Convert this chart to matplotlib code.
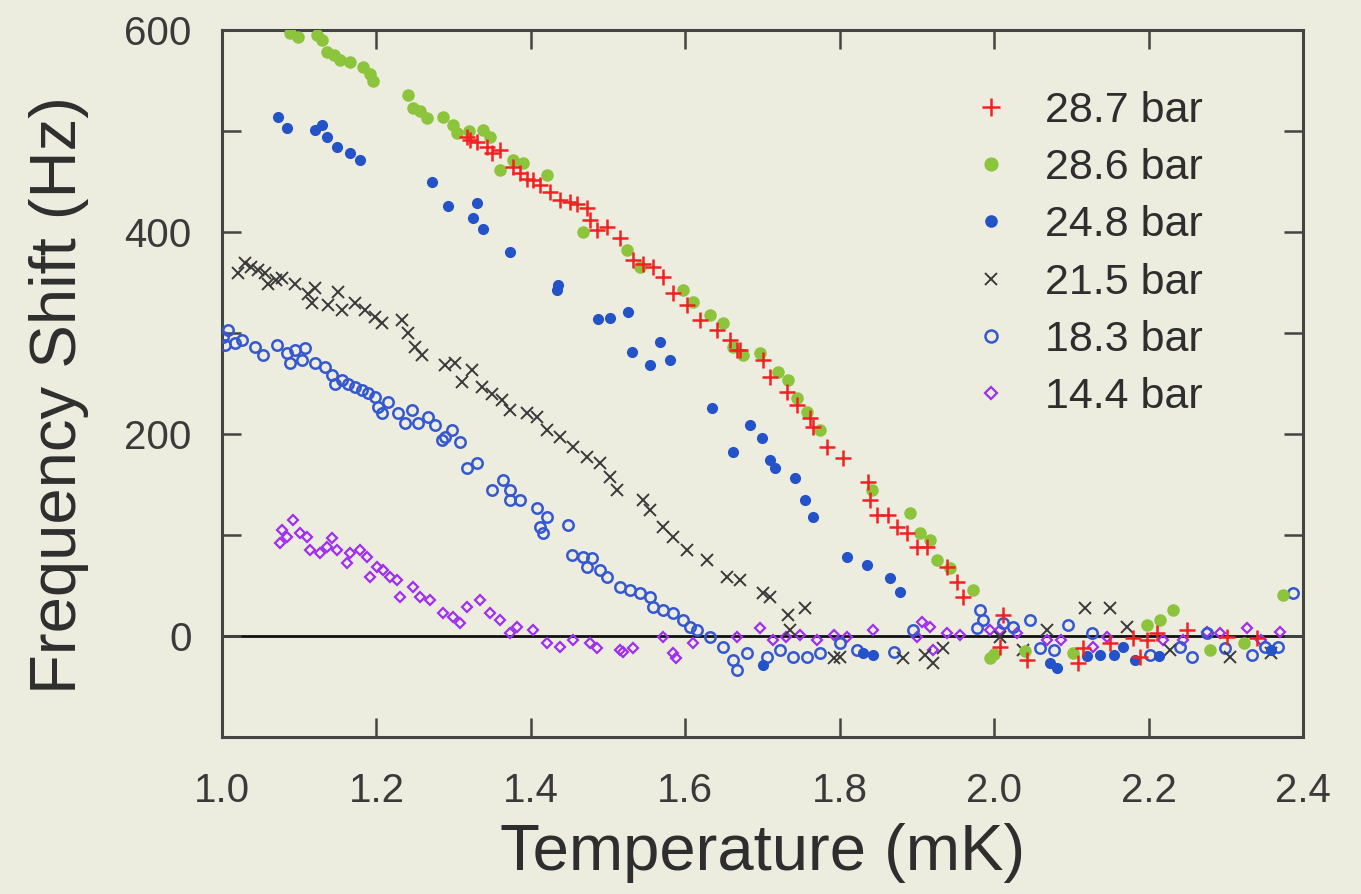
import matplotlib
matplotlib.use("Agg")
import matplotlib.pyplot as plt
from matplotlib.ticker import MultipleLocator, FuncFormatter

# ---------------- data ----------------
series_labels = ["28.7 bar", "28.6 bar", "24.8 bar", "21.5 bar", "18.3 bar", "14.4 bar"]

x_287 = [1.317,1.321,1.330,1.343,1.350,1.360,1.377,1.386,1.395,1.403,
         1.412,1.425,1.438,1.451,1.460,1.473,1.477,1.486,1.499,1.516,
         1.532,1.545,1.558,1.571,1.584,1.602,1.619,1.641,1.658,1.667,
         1.671,1.701,1.710,1.732,1.745,1.762,1.766,1.784,1.804,1.837,
         1.839,1.848,1.863,1.874,1.887,1.900,1.913,1.939,1.952,1.960,
         2.008,2.012,2.043,2.108,2.115,2.150,2.180,2.189,2.198,2.211,
         2.250,2.302,2.341]
y_287 = [494,491,489,484,478,481,464,458,452,451,
         447,440,432,430,428,424,412,402,405,394,
         372,368,365,355,340,328,313,303,293,283,
         283,273,256,242,229,216,207,187,176,152,
         135,120,120,108,102,88,88,68,53,39,
         -11,21,-24,-27,-12,-7,-2,-21,-4,3,
         6,-1,-2]

x_286 = [1.088,1.098,1.123,1.130,1.136,1.145,1.153,1.166,1.183,1.192,
         1.196,1.241,1.247,1.256,1.266,1.286,1.299,1.304,1.320,1.338,
         1.347,1.360,1.377,1.390,1.421,1.468,1.525,1.541,1.597,1.610,
         1.632,1.649,1.662,1.675,1.697,1.720,1.733,1.745,1.758,1.775,
         1.842,1.891,1.904,1.917,1.926,1.943,1.973,1.995,2.000,2.040,
         2.102,2.198,2.215,2.232,2.280,2.323,2.374]
y_286 = [597,593,595,590,578,575,570,568,563,556,
         550,536,523,520,513,514,506,498,500,501,
         494,461,471,468,456,400,382,365,343,331,
         318,310,286,278,280,261,253,236,222,204,
         145,122,102,95,75,67,46,-22,-18,-15,
         -17,11,16,26,-14,-7,41]

x_248 = [1.073,1.084,1.120,1.130,1.136,1.149,1.166,1.179,1.272,1.293,
         1.330,1.325,1.338,1.373,1.435,1.434,1.487,1.503,1.526,1.531,
         1.567,1.554,1.580,1.635,1.684,1.699,1.662,1.710,1.716,1.742,
         1.755,1.766,1.810,1.835,1.865,1.878,1.701,1.830,1.843,2.082,
         2.072,2.120,2.137,2.155,2.167,2.183,2.213,2.280,2.358]
y_248 = [514,503,501,506,494,484,478,471,450,426,
         429,414,403,380,348,343,314,315,321,281,
         291,268,273,226,209,196,182,174,166,156,
         135,118,78,70,57,44,-29,-17,-19,-32,
         -27,-20,-19,-19,-11,-24,-20,-14,-14]

x_215 = [1.021,1.030,1.038,1.047,1.056,1.060,1.070,1.078,1.095,1.111,
         1.120,1.117,1.137,1.150,1.155,1.172,1.185,1.198,1.207,1.233,
         1.241,1.250,1.259,1.289,1.302,1.311,1.324,1.337,1.350,1.363,
         1.373,1.395,1.408,1.421,1.438,1.455,1.473,1.490,1.503,1.512,
         1.545,1.554,1.571,1.584,1.602,1.628,1.654,1.671,1.701,1.710,
         1.733,1.755,1.736,1.792,1.801,1.882,1.911,1.921,1.934,2.008,
         2.038,2.069,2.118,2.150,2.172,2.228,2.306,2.358]
y_215 = [359,369,365,362,359,349,352,354,349,339,
         345,330,328,341,323,330,323,316,310,313,
         300,286,278,268,270,251,263,247,240,234,
         224,221,217,204,197,187,177,171,157,145,
         135,125,108,98,85,75,58,55,43,39,
         21,28,6,-22,-21,-22,-19,-27,-12,-1,
         -14,6,28,28,9,-14,-21,-17]

x_183 = [1.001,1.004,1.008,1.017,1.026,1.043,1.053,1.071,1.084,1.088,
         1.095,1.104,1.108,1.120,1.133,1.142,1.146,1.155,1.163,1.172,
         1.181,1.189,1.198,1.202,1.207,1.215,1.228,1.237,1.246,1.254,
         1.267,1.276,1.285,1.289,1.298,1.308,1.317,1.330,1.350,1.364,
         1.373,1.373,1.386,1.408,1.412,1.416,1.421,1.448,1.453,1.468,
         1.473,1.479,1.490,1.499,1.516,1.528,1.541,1.554,1.558,1.571,
         1.584,1.597,1.606,1.615,1.632,1.649,1.662,1.667,1.680,1.706,
         1.723,1.740,1.758,1.775,1.801,1.823,1.870,1.895,1.978,1.982,
         1.986,2.012,2.025,2.047,2.060,2.077,2.096,2.127,2.202,2.241,
         2.256,2.276,2.299,2.334,2.351,2.368,2.387]
y_183 = [296,288,303,290,293,286,278,288,280,270,
         283,273,285,270,266,258,250,253,250,247,
         244,241,237,227,221,232,221,211,224,211,
         217,209,194,197,204,192,166,171,145,154,
         145,135,135,127,108,102,118,110,80,78,
         68,77,65,58,49,46,43,39,29,26,
         23,16,9,6,-1,-11,-24,-34,-17,-21,
         -14,-21,-21,-17,-7,-14,-16,6,8,26,
         16,13,9,16,-12,-14,11,3,-19,-11,
         -21,3,-12,-19,-11,-11,43]

x_144 = [1.075,1.078,1.084,1.092,1.101,1.110,1.114,1.127,1.136,1.142,
         1.149,1.162,1.166,1.179,1.188,1.192,1.201,1.209,1.218,1.227,
         1.231,1.247,1.256,1.269,1.286,1.299,1.308,1.317,1.334,1.347,
         1.360,1.373,1.382,1.403,1.421,1.438,1.455,1.477,1.486,1.516,
         1.519,1.532,1.571,1.584,1.588,1.610,1.667,1.697,1.714,1.730,
         1.749,1.770,1.792,1.810,1.843,1.900,1.907,1.917,1.921,1.939,
         1.956,1.995,2.008,2.030,2.069,2.086,2.128,2.146,2.219,2.245,
         2.276,2.293,2.328,2.345,2.370]
y_144 = [92,105,98,115,102,98,85,82,88,97,
         85,72,82,85,78,58,68,65,58,55,
         39,49,39,36,23,19,13,29,36,23,
         16,3,9,6,-7,-11,-4,-7,-12,-14,
         -16,-12,-1,-17,-22,-7,-1,8,-4,-1,
         1,-4,1,-1,6,-1,14,9,-14,3,
         1,6,6,3,-4,-4,-11,-1,-4,-4,
         4,3,8,-4,4]

x_ticks = [1.0, 1.2, 1.4, 1.6, 1.8, 2.0, 2.2, 2.4]
y_tick_labels = {0: "0", 200: "200", 400: "400", 600: "600"}

# ---------------- figure ----------------
bg = "#ECECDF"
plt.rcParams['font.family'] = ['Liberation Sans', 'DejaVu Sans']
fig = plt.figure(figsize=(13.61, 8.94), dpi=100, facecolor=bg)
ax = fig.add_axes([222/1361, 1-737/894, (1303-222)/1361, (737-30)/894])
ax.set_facecolor(bg)

ax.axhline(0, color="#111111", lw=2.0, zorder=1)

h144, = ax.plot(x_144, y_144, ls='none', marker='D', ms=5.5, mfc='none',
                mec='#A030F0', mew=1.6, zorder=2)
h183, = ax.plot(x_183, y_183, ls='none', marker='o', ms=7.5, mfc='none',
                mec='#3558D0', mew=1.8, zorder=3)
h215, = ax.plot(x_215, y_215, ls='none', marker='x', ms=8, mec='#3A3A3A',
                mew=1.4, zorder=4)
h248, = ax.plot(x_248, y_248, ls='none', marker='o', ms=7, mfc='#2452C8',
                mec='#2452C8', zorder=5)
h286, = ax.plot(x_286, y_286, ls='none', marker='o', ms=8, mfc='#8CC43C',
                mec='#8CC43C', zorder=6)
h287, = ax.plot(x_287, y_287, ls='none', marker='+', ms=11, mec='#F02222',
                mew=1.8, zorder=7)

ax.set_xlim(1.0, 2.4)
ax.set_ylim(-100, 600)
ax.set_xticks(x_ticks)
ax.set_xticklabels([f"{t:.1f}" for t in x_ticks])
ax.yaxis.set_major_locator(MultipleLocator(100))
ax.yaxis.set_major_formatter(FuncFormatter(lambda v, p: y_tick_labels.get(int(round(v)), "")))

for s in ax.spines.values():
    s.set_color("#444444")
    s.set_linewidth(2.2)
ax.tick_params(axis='both', direction='in', length=14, width=1.8, color="#444444",
               top=True, right=True, labelsize=29, labelcolor="#3a3a3a")
ax.tick_params(axis='x', pad=25)
ax.tick_params(axis='y', pad=22)

ax.set_xlabel("Temperature (mK)", fontsize=47, color="#2e2e2e")
ax.set_ylabel("Frequency Shift (Hz)", fontsize=47, color="#2e2e2e")
ax.xaxis.set_label_coords(0.5, -0.122)
ax.yaxis.set_label_coords(-0.123, 0.484)

handles = [h287, h286, h248, h215, h183, h144]
leg = ax.legend(handles, series_labels, loc='upper left',
                bbox_to_anchor=((965-222)/1081, 1-(91-30)/707),
                frameon=False, fontsize=31, handlelength=1.2, handletextpad=0.65,
                labelspacing=0.40, borderpad=0, borderaxespad=0, markerscale=1.15)
for t in leg.get_texts():
    t.set_color("#2e2e2e")

fig.savefig("out.png", dpi=100, facecolor=bg)
